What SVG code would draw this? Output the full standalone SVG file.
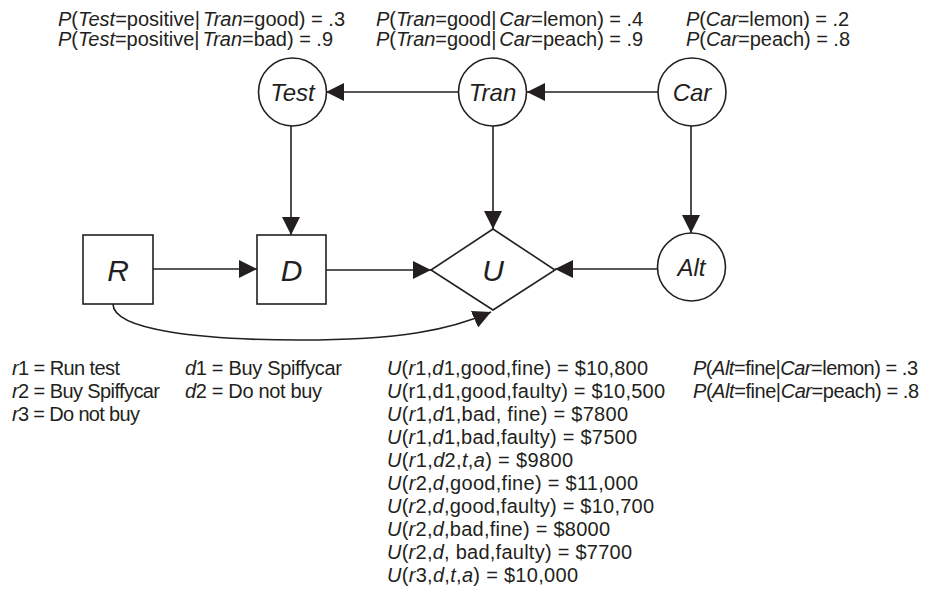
<svg xmlns="http://www.w3.org/2000/svg" width="934" height="597" viewBox="0 0 934 597">
<style>
  .shape { fill: #ffffff; stroke: #231f20; stroke-width: 1.6; }
  .conn { fill: none; stroke: #231f20; stroke-width: 1.6; }
  text { font-family: "Liberation Sans", Arial, sans-serif; fill: #231f20; }
  .lbl { font-size: 20px; }
  .node { font-style: italic; text-anchor: middle; }
  .big { font-size: 30px; }
  .mid { font-size: 24px; }
  .i { font-style: italic; }
</style>
<defs>
  <marker id="arrow" markerUnits="userSpaceOnUse" markerWidth="18" markerHeight="18" refX="18" refY="9" orient="auto" viewBox="0 0 18 18">
    <path d="M0,0 L18,9 L0,18 z" fill="#231f20"/>
  </marker>
</defs>

<rect width="934" height="597" fill="#ffffff"/>

<g id="connectors">
  <line class="conn" x1="458" y1="92" x2="326" y2="92" marker-end="url(#arrow)"/>
  <line class="conn" x1="658" y1="92" x2="527" y2="92" marker-end="url(#arrow)"/>
  <line class="conn" x1="291" y1="126" x2="291" y2="235" marker-end="url(#arrow)"/>
  <line class="conn" x1="493" y1="126" x2="493" y2="229" marker-end="url(#arrow)"/>
  <line class="conn" x1="691" y1="126" x2="691" y2="233" marker-end="url(#arrow)"/>
  <line class="conn" x1="153" y1="269" x2="257" y2="269" marker-end="url(#arrow)"/>
  <line class="conn" x1="326" y1="270" x2="431" y2="270" marker-end="url(#arrow)"/>
  <line class="conn" x1="658" y1="269" x2="555" y2="269" marker-end="url(#arrow)"/>
  <path class="conn" d="M113,304 C113,330 200,340 300,340 C400,340 450,330 491,312" marker-end="url(#arrow)"/>
</g>

<g id="node-test">
  <circle class="shape" cx="292.5" cy="92" r="34"/>
  <text class="node mid" x="292.5" y="100.5">Test</text>
</g>
<g id="node-tran">
  <circle class="shape" cx="492.5" cy="92" r="34"/>
  <text class="node mid" x="492.5" y="100.5">Tran</text>
</g>
<g id="node-car">
  <circle class="shape" cx="692" cy="92" r="34"/>
  <text class="node mid" x="692" y="100.5">Car</text>
</g>
<g id="node-alt">
  <circle class="shape" cx="691.5" cy="267" r="34"/>
  <text class="node mid" x="691.5" y="275.5">Alt</text>
</g>
<g id="node-r">
  <rect class="shape" x="83" y="235" width="70" height="69"/>
  <text class="node big" x="118" y="280.5">R</text>
</g>
<g id="node-d">
  <rect class="shape" x="257" y="235" width="69" height="69"/>
  <text class="node big" x="291.5" y="280.5">D</text>
</g>
<g id="node-u">
  <polygon class="shape" points="431,270 493,229 555,270 493,310"/>
  <text class="node big" x="493" y="281">U</text>
</g>

<g id="labels-top" class="lbl">
  <text x="58" y="26" textLength="287" lengthAdjust="spacing"><tspan class="i">P</tspan>(<tspan class="i">Test</tspan>=positive|<tspan class="i" dx="3">Tran</tspan>=good) = .3</text>
  <text x="58" y="46" textLength="275" lengthAdjust="spacing"><tspan class="i">P</tspan>(<tspan class="i">Test</tspan>=positive|<tspan class="i" dx="3">Tran</tspan>=bad) = .9</text>
  <text x="376" y="26" textLength="267" lengthAdjust="spacing"><tspan class="i">P</tspan>(<tspan class="i">Tran</tspan>=good|<tspan class="i" dx="3">Car</tspan>=lemon) = .4</text>
  <text x="376" y="46" textLength="267" lengthAdjust="spacing"><tspan class="i">P</tspan>(<tspan class="i">Tran</tspan>=good|<tspan class="i" dx="3">Car</tspan>=peach) = .9</text>
  <text x="686" y="26" textLength="163" lengthAdjust="spacing"><tspan class="i">P</tspan>(<tspan class="i">Car</tspan>=lemon) = .2</text>
  <text x="686" y="46" textLength="164" lengthAdjust="spacing"><tspan class="i">P</tspan>(<tspan class="i">Car</tspan>=peach) = .8</text>
</g>

<g id="labels-r" class="lbl">
  <text x="12" y="375" textLength="108" lengthAdjust="spacing"><tspan class="i">r</tspan>1 = Run test</text>
  <text x="12" y="398" textLength="148" lengthAdjust="spacing"><tspan class="i">r</tspan>2 = Buy Spiffycar</text>
  <text x="12" y="421" textLength="128" lengthAdjust="spacing"><tspan class="i">r</tspan>3 = Do not buy</text>
</g>

<g id="labels-d" class="lbl">
  <text x="185" y="375" textLength="157" lengthAdjust="spacing"><tspan class="i">d</tspan>1 = Buy Spiffycar</text>
  <text x="185" y="398" textLength="137" lengthAdjust="spacing"><tspan class="i">d</tspan>2 = Do not buy</text>
</g>

<g id="labels-u" class="lbl">
  <text x="387" y="375" textLength="261" lengthAdjust="spacing"><tspan class="i">U</tspan>(<tspan class="i">r</tspan>1,<tspan class="i">d</tspan>1,good,fine) = $10,800</text>
  <text x="387" y="398" textLength="278" lengthAdjust="spacing"><tspan class="i">U</tspan>(r1,d1,good,faulty) = $10,500</text>
  <text x="387" y="421" textLength="241" lengthAdjust="spacing"><tspan class="i">U</tspan>(<tspan class="i">r</tspan>1,<tspan class="i">d</tspan>1,bad, fine) = $7800</text>
  <text x="387" y="444" textLength="250" lengthAdjust="spacing"><tspan class="i">U</tspan>(<tspan class="i">r</tspan>1,<tspan class="i">d</tspan>1,bad,faulty) = $7500</text>
  <text x="387" y="467" textLength="186" lengthAdjust="spacing"><tspan class="i">U</tspan>(<tspan class="i">r</tspan>1,<tspan class="i">d</tspan>2,<tspan class="i">t</tspan>,<tspan class="i">a</tspan>) = $9800</text>
  <text x="387" y="490" textLength="251" lengthAdjust="spacing"><tspan class="i">U</tspan>(<tspan class="i">r</tspan>2,<tspan class="i">d</tspan>,good,fine) = $11,000</text>
  <text x="387" y="513" textLength="267" lengthAdjust="spacing"><tspan class="i">U</tspan>(<tspan class="i">r</tspan>2,<tspan class="i">d</tspan>,good,faulty) = $10,700</text>
  <text x="387" y="536" textLength="223" lengthAdjust="spacing"><tspan class="i">U</tspan>(<tspan class="i">r</tspan>2,<tspan class="i">d</tspan>,bad,fine) = $8000</text>
  <text x="387" y="559" textLength="245" lengthAdjust="spacing"><tspan class="i">U</tspan>(<tspan class="i">r</tspan>2,<tspan class="i">d</tspan>, bad,faulty) = $7700</text>
  <text x="387" y="582" textLength="191" lengthAdjust="spacing"><tspan class="i">U</tspan>(<tspan class="i">r</tspan>3,<tspan class="i">d</tspan>,<tspan class="i">t</tspan>,<tspan class="i">a</tspan>) = $10,000</text>
</g>

<g id="labels-alt" class="lbl">
  <text x="693" y="375" textLength="225" lengthAdjust="spacing"><tspan class="i">P</tspan>(<tspan class="i">Alt</tspan>=fine|<tspan class="i">Car</tspan>=lemon) = .3</text>
  <text x="693" y="398" textLength="226" lengthAdjust="spacing"><tspan class="i">P</tspan>(<tspan class="i">Alt</tspan>=fine|<tspan class="i">Car</tspan>=peach) = .8</text>
</g>
</svg>
